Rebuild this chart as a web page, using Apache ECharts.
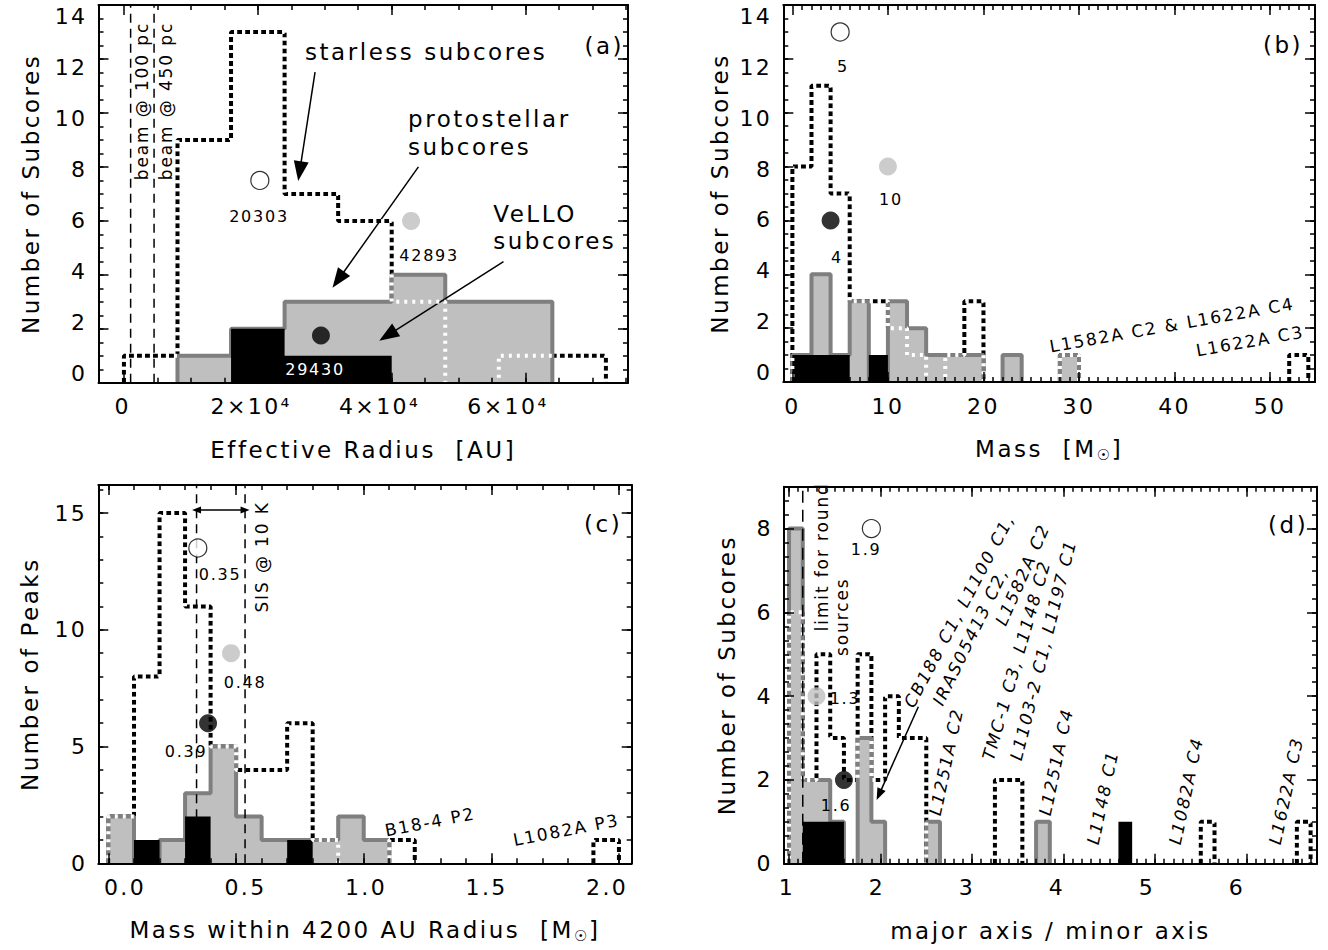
<!DOCTYPE html>
<html>
<head>
<meta charset="utf-8">
<title>Subcore statistics</title>
<script src="https://cdn.jsdelivr.net/npm/echarts@6.0.0/dist/echarts.min.js"></script>
<style>
  html, body { margin: 0; padding: 0; background: #fff; }
  #chart { width: 1328px; height: 950px; }
  #chart text { letter-spacing: 0.11em; }
</style>
</head>
<body>
<div id="chart"></div>
<script>
// ---------- (a) effective radius [AU] ----------
const radiusEdges    = [0, 8000, 16000, 24000, 32000, 40000, 48000, 56000, 64000, 72000];
const radiusStarless = [1, 9, 13, 7, 6, 3, 0, 1, 1];
const radiusProto    = [0, 1, 2, 3, 3, 4, 3, 3, 0];
const radiusVello    = [0, 0, 2, 1, 1, 0, 0, 0, 0];
const radiusMedianX  = [20303, 42893, 29430];      // starless, protostellar, VeLLO
const radiusMedianY  = [7.5, 6, 1.75];
const beamRadii      = [1000, 4500];               // beam @ 100 pc, beam @ 450 pc
const radiusTicks    = [0, 20000, 40000, 60000];

// ---------- (b) mass [Msun] ----------
const massEdges    = [0, 2, 4, 6, 8, 10, 12, 14, 16, 18, 20, 22, 24, 26, 28, 30, 32, 34, 36, 38, 40, 42, 44, 46, 48, 50, 52, 54];
const massStarless = [8, 11, 7, 3, 3, 2, 1, 0, 1, 3, 0, 0, 0, 0, 1, 0, 0, 0, 0, 0, 0, 0, 0, 0, 0, 0, 1];
const massProto    = [1, 4, 1, 3, 0, 3, 2, 1, 1, 1, 0, 1, 0, 0, 1, 0, 0, 0, 0, 0, 0, 0, 0, 0, 0, 0, 0];
const massVello    = [1, 1, 1, 0, 1, 0, 0, 0, 0, 0, 0, 0, 0, 0, 0, 0, 0, 0, 0, 0, 0, 0, 0, 0, 0, 0, 0];
const massMedianX  = [5, 10, 4];
const massMedianY  = [13, 8, 6];
const massTicks    = [0, 10, 20, 30, 40, 50];

// ---------- (c) mass within 4200 AU radius [Msun] ----------
const peakEdges    = [0, 0.1, 0.2, 0.3, 0.4, 0.5, 0.6, 0.7, 0.8, 0.9, 1.0, 1.1, 1.2, 1.3, 1.4, 1.5, 1.6, 1.7, 1.8, 1.9, 2.0];
const peakStarless = [2, 8, 15, 11, 5, 4, 4, 6, 1, 0, 0, 1, 0, 0, 0, 0, 0, 0, 0, 1];
const peakProto    = [2, 0, 1, 3, 5, 2, 1, 1, 1, 2, 1, 0, 0, 0, 0, 0, 0, 0, 0, 0];
const peakVello    = [0, 1, 0, 2, 0, 0, 0, 1, 0, 0, 0, 0, 0, 0, 0, 0, 0, 0, 0, 0];
const peakMedianX  = [0.35, 0.48, 0.39];
const peakMedianY  = [13.5, 9, 6];
const sisMass      = [0.345, 0.535];
const peakTicks    = [0, 0.5, 1, 1.5, 2];

// ---------- (d) axis ratio ----------
const ratioEdges    = [1.00, 1.15, 1.30, 1.45, 1.60, 1.75, 1.90, 2.05, 2.20, 2.35, 2.50, 2.65, 2.80, 2.95, 3.10, 3.25, 3.40, 3.55, 3.70, 3.85,
                       4.00, 4.15, 4.30, 4.45, 4.60, 4.75, 4.90, 5.05, 5.20, 5.35, 5.50, 5.65, 5.80, 5.95, 6.10, 6.25, 6.40, 6.55, 6.70];
const ratioStarless = [6, 2, 5, 3, 2, 5, 2, 4, 3, 3, 0, 0, 0, 0, 0, 2, 2, 0, 0, 0, 0, 0, 0, 0, 0, 0, 0, 0, 0, 0, 1, 0, 0, 0, 0, 0, 0, 1];
const ratioProto    = [8, 2, 2, 1, 0, 3, 1, 0, 0, 0, 1, 0, 0, 0, 0, 0, 0, 0, 1, 0, 0, 0, 0, 0, 0, 0, 0, 0, 0, 0, 0, 0, 0, 0, 0, 0, 0, 0];
const ratioVello    = [0, 1, 1, 1, 0, 0, 0, 0, 0, 0, 0, 0, 0, 0, 0, 0, 0, 0, 0, 0, 0, 0, 0, 0, 1, 0, 0, 0, 0, 0, 0, 0, 0, 0, 0, 0, 0, 0];
const ratioMedianX  = [1.9, 1.3, 1.6];
const ratioMedianY  = [8, 4, 2];
const roundLimit    = [1.15];
const ratioTicks    = [1, 2, 3, 4, 5, 6];

// ---------- styling ----------
const FONT = "'DejaVu Sans', sans-serif";
const SPACING = 0.11;                 // letter spacing in em (see stylesheet)
const GRAY_FILL = '#bfbfbf', GRAY_LINE = '#7f7f7f';
const MARKER_STYLE = [
  { color: '#ffffff', borderColor: '#000', borderWidth: 1.2 },
  { color: GRAY_FILL, borderWidth: 0 },
  { color: '#000000', borderWidth: 0 }
];
const AX = 5;                         // axes per panel side: major, minor, mirror major, mirror minor, labels

function steps(a, b, s) {             // tick positions
  const out = [];
  for (let v = a; v <= b + 1e-9; v += s) out.push(+v.toFixed(6));
  return out;
}

// outline of a histogram as a stepped polyline, broken where the count is zero
function histPath(edges, counts) {
  const pts = [];
  let open = false;
  for (let i = 0; i < counts.length; i++) {
    if (counts[i] > 0) {
      if (!open) { pts.push([edges[i], 0]); open = true; }
      pts.push([edges[i], counts[i]]);
    } else if (open) {
      pts.push([edges[i], 0]);
      pts.push([edges[i], '-']);
      open = false;
    }
  }
  if (open) pts.push([edges[counts.length], 0]);
  return pts;
}

// tick labels sit on their own label scale (lab), slightly tighter than the tick scale
const panels = [
  { grid: { left: 98.5, top: 5, width: 529.5, height: 377.8 }, ytitleGap: 68,
    x: { min: -3800, max: 75300, lab: [-3768, 78683], major: radiusTicks, minor: steps(5000, 75000, 5000),
         fmt: v => v === 0 ? '0' : (v / 1e4) + '\u00d710\u2074' },
    y: { min: 0, max: 14, lab: [-0.385, 14.46], major: steps(0, 14, 2), minor: steps(0.5, 14, 0.5), fmt: v => String(v) },
    edges: radiusEdges, starless: radiusStarless, proto: radiusProto, vello: radiusVello,
    mx: radiusMedianX, my: radiusMedianY, vlines: beamRadii, vlineDash: [9, 6],
    ytitle: 'Number of Subcores', xtitle: 'Effective Radius  [AU]', sun: false },
  { grid: { left: 783.3, top: 5, width: 531.7, height: 377 }, ytitleGap: 63,
    x: { min: -0.95, max: 54.7, lab: [-0.95, 54.7], major: massTicks, minor: steps(1, 54, 1), fmt: v => String(v) },
    y: { min: 0, max: 14, lab: [-0.385, 14.46], major: steps(0, 14, 2), minor: steps(0.5, 14, 0.5), fmt: v => String(v) },
    edges: massEdges, starless: massStarless, proto: massProto, vello: massVello,
    mx: massMedianX, my: massMedianY, vlines: [],
    ytitle: 'Number of Subcores', xtitle: 'Mass  [M', sun: true },
  { grid: { left: 98.3, top: 485, width: 533.4, height: 378.3 }, ytitleGap: 68,
    x: { min: -0.04, max: 2.05, lab: [-0.1108, 2.102], major: peakTicks, minor: steps(0, 2, 0.1), fmt: v => v.toFixed(1) },
    y: { min: 0, max: 16.2, lab: [0, 16.2], major: [0, 5, 10, 15], minor: steps(1, 16, 1), fmt: v => String(v) },
    edges: peakEdges, starless: peakStarless, proto: peakProto, vello: peakVello,
    mx: peakMedianX, my: peakMedianY, vlines: sisMass, vlineDash: [9, 6],
    ytitle: 'Number of Peaks', xtitle: 'Mass within 4200 AU Radius  [M', sun: true },
  { grid: { left: 784, top: 486.7, width: 533, height: 377 }, ytitleGap: 57,
    x: { min: 0.945, max: 6.77, lab: [0.967, 6.889], major: ratioTicks, minor: steps(1, 6.7, 0.1), fmt: v => String(v) },
    y: { min: 0, max: 9, lab: [0, 9], major: [0, 2, 4, 6, 8], minor: steps(0, 9, 1 / 3), fmt: v => String(v) },
    edges: ratioEdges, starless: ratioStarless, proto: ratioProto, vello: ratioVello,
    mx: ratioMedianX, my: ratioMedianY, vlines: roundLimit, vlineDash: [12, 7],
    ytitle: 'Number of Subcores', xtitle: 'major axis / minor axis', sun: false }
];

// arrows in data coordinates: [from, to]
const arrows = [
  { p: 0, size: [15, 20], list: [[[28550, 11.51], [26260, 7.84]], [[43990, 8.0], [32020, 3.82]], [[56700, 4.49], [39400, 1.76]]] },
  { p: 2, size: [7, 9], both: true, list: [[[0.345, 15.13], [0.535, 15.13]]] },
  { p: 3, size: [9, 12], list: [[[2.413, 3.747], [1.984, 1.65]]] }
];

// text annotations in data coordinates (rotated object names start at 'at')
const slanted = { italic: true, align: 'left', valign: 'bottom', size: 17 };
const notes = [
  { p: 0, at: [71750, 12.47], t: '(a)', size: 23 },
  { p: 0, at: [27055, 12.25], t: 'starless subcores', size: 23, align: 'left' },
  { p: 0, at: [42450, 9.77], t: 'protostellar', size: 23, align: 'left' },
  { p: 0, at: [42450, 8.73], t: 'subcores', size: 23, align: 'left' },
  { p: 0, at: [55160, 6.25], t: 'VeLLO', size: 23, align: 'left' },
  { p: 0, at: [55160, 5.25], t: 'subcores', size: 23, align: 'left' },
  { p: 0, at: [2650, 10.44], t: 'beam @ 100 pc', size: 17, rot: 90 },
  { p: 0, at: [6280, 10.44], t: 'beam @ 450 pc', size: 17, rot: 90 },
  { p: 1, at: [51.35, 12.51], t: '(b)', size: 23 },
  { p: 1, at: [39.73, 2.12], t: 'L1582A C2 & L1622A C4', size: 17, rot: 10 },
  { p: 1, at: [47.90, 1.52], t: 'L1622A C3', size: 17, rot: 10 },
  { p: 2, at: [1.938, 14.53], t: '(c)', size: 23 },
  { p: 2, at: [0.600, 13.12], t: 'SIS @ 10 K', size: 17, rot: 90 },
  { p: 2, at: [1.26, 1.77], t: 'B18-4 P2', size: 17, rot: 11 },
  { p: 2, at: [1.793, 1.43], t: 'L1082A P3', size: 17, rot: 11 },
  { p: 3, at: [6.454, 8.084], t: '(d)', size: 23 },
  { p: 3, at: [1.364, 7.327], t: 'limit for round', size: 17, rot: 90 },
  { p: 3, at: [1.583, 5.895], t: 'sources', size: 17, rot: 90 },
  Object.assign({}, slanted, { p: 3, at: [2.388, 3.668], t: 'CB188 C1, L1100 C1,', rot: 62 }),
  Object.assign({}, slanted, { p: 3, at: [2.705, 3.716], t: 'IRAS05413 C2,', rot: 64 }),
  Object.assign({}, slanted, { p: 3, at: [3.393, 5.625], t: 'L1582A C2', rot: 66 }),
  Object.assign({}, slanted, { p: 3, at: [3.262, 2.427], t: 'TMC-1 C3, L1148 C2', rot: 74 }),
  Object.assign({}, slanted, { p: 3, at: [3.568, 2.427], t: 'L1103-2 C1, L1197 C1', rot: 76 }),
  Object.assign({}, slanted, { p: 3, at: [2.683, 1.115], t: 'L1251A C2', rot: 78 }),
  Object.assign({}, slanted, { p: 3, at: [3.885, 1.115], t: 'L1251A C4', rot: 78 }),
  Object.assign({}, slanted, { p: 3, at: [4.41, 0.423], t: 'L1148 C1', rot: 78 }),
  Object.assign({}, slanted, { p: 3, at: [5.306, 0.423], t: 'L1082A C4', rot: 78 }),
  Object.assign({}, slanted, { p: 3, at: [6.399, 0.423], t: 'L1622A C3', rot: 78 })
];

// where each median value is written, in the panel's data space
const medianLabelAt = [
  [[20180, 6.18], [45590, 4.70], [28550, 0.51]],
  [[5.30, 11.73], [10.32, 6.76], [4.67, 4.64]],
  [[0.437, 12.35], [0.535, 7.76], [0.304, 4.77]],
  [[1.842, 7.49], [1.612, 3.955], [1.514, 1.4]]
];

// ---------- build option ----------
const xAxes = [], yAxes = [], grids = [], series = [];

function axisSet(gridIndex, spec, isY) {
  const sides = isY ? ['left', 'right'] : ['bottom', 'top'];
  const base = (position) => ({
    gridIndex, type: 'value', min: spec.min, max: spec.max, position, z: 10, silent: true,
    splitLine: { show: false }, splitArea: { show: false }, axisLabel: { show: false }
  });
  const out = [];
  sides.forEach(side => {
    out.push(Object.assign(base(side), {
      axisLine: { show: true, onZero: false, lineStyle: { color: '#000', width: 2 } },
      axisTick: { show: true, inside: true, length: 10, customValues: spec.major, lineStyle: { color: '#000', width: 1.5 } }
    }));
    out.push(Object.assign(base(side), {
      axisLine: { show: false, onZero: false },
      axisTick: { show: true, inside: true, length: 5, customValues: spec.minor, lineStyle: { color: '#000', width: 1.5 } }
    }));
  });
  // tick labels
  out.push(Object.assign(base(sides[0]), {
    min: spec.lab[0], max: spec.lab[1],
    axisLine: { show: false, onZero: false }, axisTick: { show: false },
    axisLabel: {
      show: true, customValues: spec.major, formatter: spec.fmt, margin: isY ? 11 : 13,
      fontFamily: FONT, fontSize: 22, color: '#000'
    }
  }));
  return out;
}

panels.forEach((P, p) => {
  grids.push(Object.assign({ outerBoundsMode: 'none', containLabel: false }, P.grid));
  xAxes.push(...axisSet(p, P.x, false));
  yAxes.push(...axisSet(p, P.y, true));
  const ax = { xAxisIndex: AX * p, yAxisIndex: AX * p };
  const hist = (counts, z, line, area) => Object.assign({
    type: 'line', step: 'end', symbol: 'none', showSymbol: false, silent: true, z,
    data: histPath(P.edges, counts), lineStyle: line, areaStyle: area, connectNulls: false
  }, ax);
  // starless outline (black dashes, hidden below the protostellar fill)
  series.push(hist(P.starless, 2, { color: '#000', width: 4, type: [5, 3], cap: 'butt' }));
  // protostellar subcores
  series.push(hist(P.proto, 3, { color: GRAY_LINE, width: 4 }, { color: GRAY_FILL, opacity: 1 }));
  // VeLLO subcores
  series.push(hist(P.vello, 4, { color: '#000', width: 0 }, { color: '#000', opacity: 1 }));
  // starless outline again, white dashes filling the gaps of the black ones
  series.push(hist(P.starless, 5, { color: '#fff', width: 4, type: [3, 5], dashOffset: 3, cap: 'butt' }));
  // vertical reference lines
  if (P.vlines.length) {
    const d = [];
    P.vlines.forEach(v => { d.push([v, P.y.min], [v, P.y.max], [v, '-']); });
    series.push(Object.assign({
      type: 'line', symbol: 'none', silent: true, z: 6, data: d, connectNulls: false,
      lineStyle: { color: '#000', width: 1.5, type: P.vlineDash }
    }, ax));
  }
  // medians, plus pointer arrows
  const arrowSet = arrows.filter(a => a.p === p);
  const markLine = arrowSet.length ? {
    silent: true, animation: false, label: { show: false }, emphasis: { disabled: true },
    lineStyle: { color: '#000', width: 1.5, type: 'solid' },
    symbol: arrowSet[0].both ? ['triangle', 'triangle'] : ['none', 'triangle'],
    symbolSize: arrowSet[0].size,
    data: arrowSet[0].list.map(l => [{ coord: l[0] }, { coord: l[1] }])
  } : undefined;
  series.push(Object.assign({
    type: 'scatter', symbol: 'circle', symbolSize: 18, silent: true, z: 7,
    data: P.mx.map((x, i) => ({ value: [x, P.my[i]], itemStyle: MARKER_STYLE[i] })),
    markLine
  }, ax));
});

const chart = echarts.init(document.getElementById('chart'), null, { renderer: 'svg', width: 1328, height: 950 });
chart.setOption({
  animation: false,
  backgroundColor: '#fff',
  grid: grids, xAxis: xAxes, yAxis: yAxes, series
});

// ---------- text ----------
const mctx = document.createElement('canvas').getContext('2d');
function textWidth(str, size) {
  mctx.font = size + "px 'DejaVu Sans'";
  return mctx.measureText(str).width + str.length * SPACING * size;
}
function textEl(X, Y, str, o) {
  o = o || {};
  const align = o.align || 'center';
  const valign = o.valign || 'middle';
  return {
    type: 'text', x: X, y: Y, rotation: (o.rot || 0) * Math.PI / 180, z: 100, silent: true,
    style: {
      text: str, fontSize: o.size || 17, fontFamily: FONT, fontStyle: o.italic ? 'italic' : 'normal',
      fill: o.color || '#000', align, textAlign: align, verticalAlign: valign, textVerticalAlign: valign
    }
  };
}
const toPx = (p, pt) => chart.convertToPixel({ xAxisIndex: AX * p, yAxisIndex: AX * p }, pt);

const graphics = [];
notes.forEach(n => {
  const [X, Y] = toPx(n.p, n.at);
  graphics.push(textEl(X, Y, n.t, n));
});
panels.forEach((P, p) => {
  P.mx.forEach((v, i) => {
    const [X, Y] = toPx(p, medianLabelAt[p][i]);
    graphics.push(textEl(X, Y, String(v), { size: 16, color: (p === 0 && i === 2) ? '#fff' : '#000' }));
  });
  const g = P.grid;
  // y title
  graphics.push(textEl(g.left - P.ytitleGap, g.top + g.height / 2, P.ytitle, { size: 23, rot: 90 }));
  // x title, with a subscript sun symbol for solar masses
  const cx = g.left + g.width / 2, cy = g.top + g.height + 67;
  if (!P.sun) {
    graphics.push(textEl(cx, cy, P.xtitle, { size: 23 }));
  } else {
    const w1 = textWidth(P.xtitle, 23), w2 = textWidth('\u2609', 15), w3 = textWidth(']', 23);
    const x0 = cx - (w1 + w2 + w3) / 2;
    graphics.push(textEl(x0, cy, P.xtitle, { size: 23, align: 'left' }));
    graphics.push(textEl(x0 + w1, cy + 6, '\u2609', { size: 15, align: 'left' }));
    graphics.push(textEl(x0 + w1 + w2, cy, ']', { size: 23, align: 'left' }));
  }
});
chart.setOption({ graphic: { elements: graphics } });
</script>
</body>
</html>
